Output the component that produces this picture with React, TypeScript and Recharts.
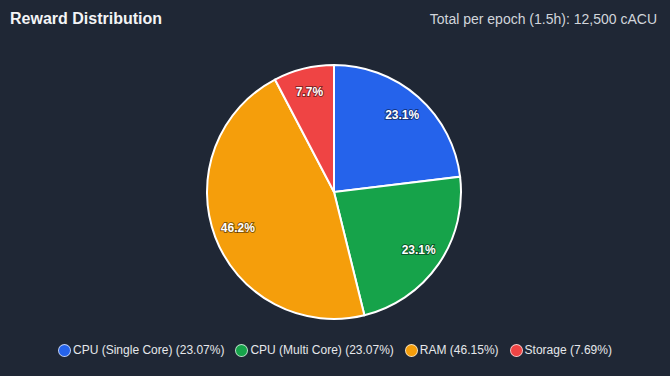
import { PieChart, Pie, Cell, Legend } from 'recharts'

const categories = ['CPU (Single Core)', 'CPU (Multi Core)', 'RAM', 'Storage']
const shares = [3, 3, 6, 1]
const legendPct = ['23.07%', '23.07%', '46.15%', '7.69%']
const COLORS = ['#2563eb', '#16a34a', '#f59e0b', '#ef4444']

const data = categories.map((name, i) => ({ name, value: shares[i], pct: legendPct[i] }))
const total = shares.reduce((a, b) => a + b, 0)

const RADIAN = Math.PI / 180

function renderLabel(props: any) {
  const { cx, cy, midAngle, outerRadius, value } = props
  const r = outerRadius * 0.81
  const x = cx + r * Math.cos(-midAngle * RADIAN)
  const y = cy + r * Math.sin(-midAngle * RADIAN)
  return (
    <text
      x={x}
      y={y}
      fill="#ffffff"
      textAnchor="middle"
      dominantBaseline="central"
      fontSize={12}
      fontWeight={700}
      stroke="rgba(0,0,0,0.45)"
      strokeWidth={2}
      paintOrder="stroke"
      style={{ fontFamily: 'Liberation Sans, Arial, sans-serif' }}
    >
      {((value / total) * 100).toFixed(1)}%
    </text>
  )
}

function LegendContent() {
  return (
    <div style={{ display: 'flex', justifyContent: 'center', gap: 11, fontSize: 12, color: '#e5e7eb' }}>
      {data.map((d, i) => (
        <div key={d.name} style={{ display: 'flex', alignItems: 'center' }}>
          <span
            style={{
              width: 13,
              height: 13,
              borderRadius: '50%',
              background: COLORS[i],
              border: '1px solid rgba(255,255,255,0.7)',
              boxSizing: 'border-box',
              marginRight: 2,
            }}
          />
          {d.name} ({d.pct})
        </div>
      ))}
    </div>
  )
}

export default function App() {
  return (
    <div
      style={{
        position: 'fixed',
        top: 0,
        left: 0,
        width: 670,
        height: 376,
        background: '#1f2735',
        fontFamily: 'Liberation Sans, Arial, sans-serif',
        overflow: 'hidden',
      }}
    >
      <div style={{ position: 'absolute', left: 10, top: 10, fontSize: 16, fontWeight: 700, color: '#f3f4f6' }}>
        Reward Distribution
      </div>
      <div style={{ position: 'absolute', right: 13, top: 11, fontSize: 14, color: '#d1d5db' }}>
        Total per epoch (1.5h): 12,500 cACU
      </div>
      <PieChart width={670} height={376}>
        <Pie
          data={data}
          dataKey="value"
          nameKey="name"
          cx={329}
          cy={187}
          outerRadius={127}
          startAngle={90}
          endAngle={-270}
          stroke="#ffffff"
          strokeWidth={2}
          labelLine={false}
          label={renderLabel}
          isAnimationActive={false}
        >
          {data.map((d, i) => (
            <Cell key={d.name} fill={COLORS[i]} />
          ))}
        </Pie>
        <Legend
          content={<LegendContent />}
          wrapperStyle={{ position: 'absolute', left: 0, top: 343, width: 670 }}
        />
      </PieChart>
    </div>
  )
}
